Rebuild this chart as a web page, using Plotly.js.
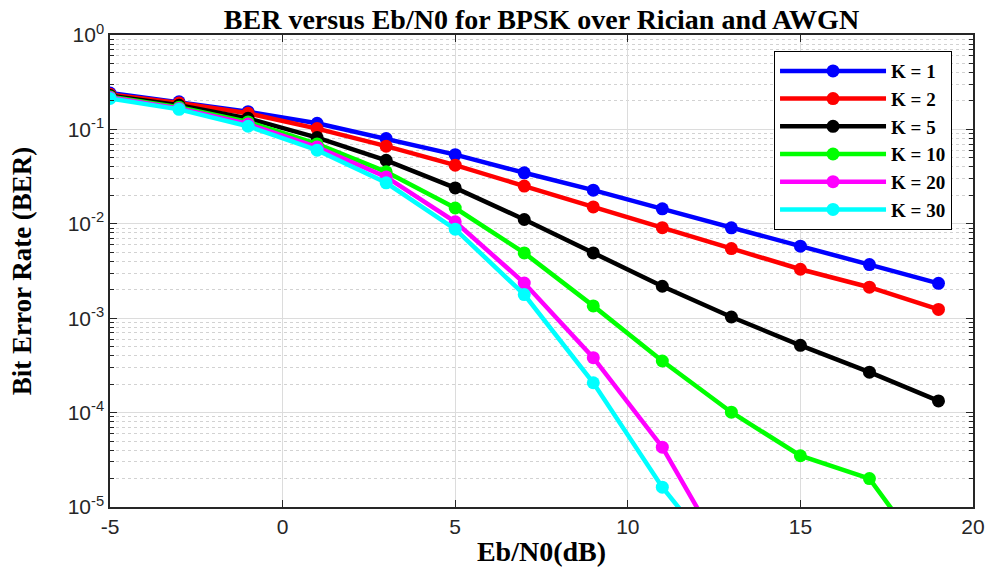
<!DOCTYPE html>
<html>
<head>
<meta charset="utf-8">
<script src="https://cdn.plot.ly/plotly-3.0.1.min.js"></script>
<style>html,body{margin:0;padding:0;background:#fff;}#chart{width:993px;height:567px;}</style>
</head>
<body>
<div id="chart"></div>
<script>
// Eb/N0 (dB)
var ebn0 = [-5, -3, -1, 1, 3, 5, 7, 9, 11, 13, 15, 17, 19];
var ebn0Short = [-5, -3, -1, 1, 3, 5, 7, 9, 11, 13];

// BER per Rician K-factor
var berK1  = [0.243, 0.196, 0.154, 0.116, 0.080, 0.054, 0.0347, 0.0227, 0.0144, 0.00906, 0.0058, 0.0037, 0.00234];
var berK2  = [0.235, 0.190, 0.148, 0.102, 0.0665, 0.0418, 0.0251, 0.0151, 0.0091, 0.00547, 0.0033, 0.00213, 0.00124];
var berK5  = [0.228, 0.180, 0.131, 0.082, 0.047, 0.024, 0.0111, 0.00492, 0.00218, 0.00103, 0.000516, 0.000268, 0.000133];
var berK10 = [0.222, 0.172, 0.120, 0.0701, 0.0355, 0.0147, 0.00492, 0.00135, 0.000352, 0.000101, 0.0000349, 0.0000200, 0.0000020];
var berK20 = [0.218, 0.167, 0.114, 0.065, 0.0314, 0.0105, 0.00236, 0.000382, 0.000043, 0.0000023];
var berK30 = [0.213, 0.163, 0.108, 0.0603, 0.0272, 0.00877, 0.00178, 0.000207, 0.0000162, 0.0000020];

var seriesNames = ['K = 1', 'K = 2', 'K = 5', 'K = 10', 'K = 20', 'K = 30'];
var seriesColors = ['#0000FF', '#FF0000', '#000000', '#00FF00', '#FF00FF', '#00FFFF'];

var yTickVals = [1e-5, 1e-4, 1e-3, 1e-2, 1e-1, 1];
var yTickText = ['10<sup>-5</sup>', '10<sup>-4</sup>', '10<sup>-3</sup>', '10<sup>-2</sup>', '10<sup>-1</sup>', '10<sup>0</sup>'];
var xTickVals = [-5, 0, 5, 10, 15, 20];
var xTickText = ['-5', '0', '5', '10', '15', '20'];

var xs = [ebn0, ebn0, ebn0, ebn0, ebn0Short, ebn0Short];
var ys = [berK1, berK2, berK5, berK10, berK20, berK30];

var traces = ys.map(function (y, i) {
  return {
    x: xs[i], y: y, name: seriesNames[i], type: 'scatter', mode: 'lines+markers',
    line: {color: seriesColors[i], width: 4.5},
    marker: {color: seriesColors[i], size: 13, symbol: 'circle'}
  };
});

var axisColor = '#262626';
var layout = {
  width: 993, height: 567,
  margin: {l: 110, r: 20, t: 35, b: 60},
  paper_bgcolor: '#fff', plot_bgcolor: '#fff',
  showlegend: true,
  title: {
    text: 'BER versus Eb/N0 for BPSK over Rician and AWGN',
    font: {family: 'Liberation Serif', size: 28, color: '#000', weight: 'bold'},
    x: 0.5, xref: 'paper', xanchor: 'center',
    y: 1 - 19 / 567, yref: 'container', yanchor: 'middle'
  },
  xaxis: {
    range: [-5, 20], tickmode: 'array', tickvals: xTickVals, ticktext: xTickText,
    ticks: 'inside', ticklen: 7, tickwidth: 1, tickcolor: axisColor,
    showline: true, linecolor: axisColor, linewidth: 1.5, mirror: 'ticks',
    showgrid: true, gridcolor: '#dcdcdc', gridwidth: 1, zeroline: false,
    tickfont: {family: 'Liberation Sans', size: 21, color: axisColor},
    title: {text: 'Eb/N0(dB)', standoff: 4, font: {family: 'Liberation Serif', size: 28, color: '#000', weight: 'bold'}}
  },
  yaxis: {
    type: 'log', range: [-5, 0], tickmode: 'array', tickvals: yTickVals, ticktext: yTickText,
    ticks: 'inside', ticklen: 7, tickwidth: 1, tickcolor: axisColor,
    showline: true, linecolor: axisColor, linewidth: 1.5, mirror: 'ticks',
    showgrid: true, gridcolor: '#dcdcdc', gridwidth: 1, zeroline: false,
    tickfont: {family: 'Liberation Sans', size: 21, color: axisColor},
    minor: {dtick: 'D1', ticks: 'inside', ticklen: 4, tickcolor: axisColor, showgrid: true, gridcolor: '#d2d2d2', griddash: 'dot', gridwidth: 1},
    title: {text: 'Bit Error Rate (BER)', standoff: 28, font: {family: 'Liberation Serif', size: 27, color: '#000', weight: 'bold'}}
  },
  legend: {
    x: 0.9757, xanchor: 'right', y: 0.966, yanchor: 'top',
    bgcolor: '#fff', bordercolor: '#000', borderwidth: 1,
    font: {family: 'Liberation Serif', size: 19, color: '#000', weight: 'bold'},
    itemwidth: 106, tracegroupgap: 0
  }
};

Plotly.newPlot('chart', traces, layout, {displayModeBar: false, responsive: false});
</script>
</body>
</html>
